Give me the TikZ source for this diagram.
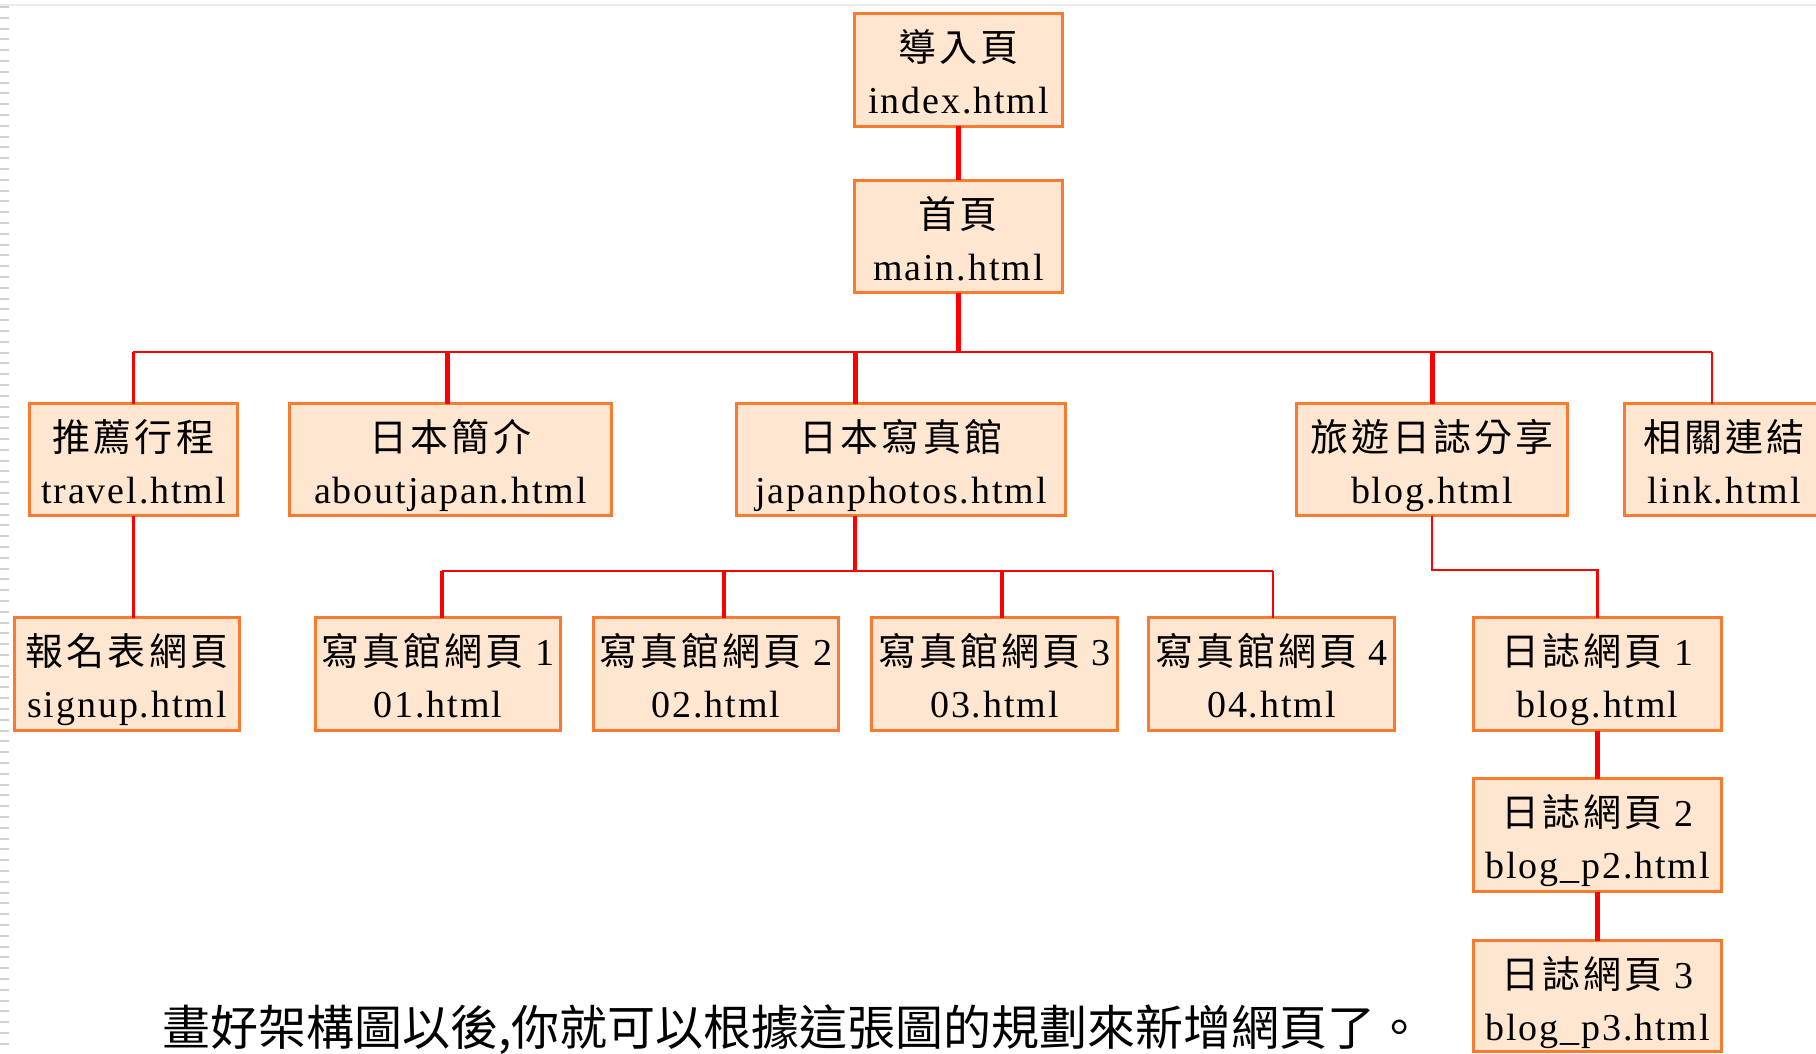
\documentclass[tikz,border=0pt]{standalone}
\usepackage{fontspec}
\setmainfont{Liberation Serif}
\newfontfamily\cjkf[LetterSpace=8]{Noto Sans CJK TC}
\newfontfamily\cjkn{Noto Sans CJK TC}
\newfontfamily\latf[LetterSpace=5]{Liberation Serif}
\definecolor{boxfill}{HTML}{FFE6D0}
\definecolor{boxline}{HTML}{FA7A30}
\definecolor{linered}{HTML}{FF0000}
\newcommand\pgbox[7]{%
  \node[box, minimum width={(#4-#2-3)*0.5pt}, minimum height={(#5-#3-3)*0.5pt}] (#1) at ({(#2+#4)/2},{(#3+#5)/2}) {};
  \node[cjkline] (#1-t) at ([yshift=-24pt]#1.north) {#6};
  \node[latline] (#1-f) at ([yshift=-50pt]#1.north) {#7};}
\begin{document}
\begin{tikzpicture}[x=0.5pt,y=-0.5pt,
  box/.style={draw=boxline, fill=boxfill, line width=1.5pt, inner sep=0pt, outer sep=0pt},
  thinl/.style={draw=linered, line width=1.25pt},
  medl/.style={draw=linered, line width=1.75pt},
  thickl/.style={draw=linered, line width=2.5pt},
  cjkline/.style={anchor=base, inner sep=0pt, font=\fontsize{19pt}{19pt}\selectfont\cjkf},
  latline/.style={anchor=base, inner sep=0pt, font=\fontsize{19pt}{19pt}\selectfont\latf},
  note/.style={anchor=base west, inner sep=0pt, font=\fontsize{24pt}{24pt}\selectfont\cjkn}]
\fill[white] (0,0) rectangle (1816,1054);
\useasboundingbox (0,0) rectangle (1816,1054);
\clip (0,0) rectangle (1816,1054);
% slide edge artefacts
\draw[black!8, line width=0.75pt] (0,5) -- (1816,5);
\foreach \k in {0,...,97} \draw[black!18, line width=1pt] (0,{7+\k*10.8}) -- (9,{7+\k*10.8});
% boxes
\pgbox{index}{853}{12}{1064}{128}{導入頁}{index.html}
\pgbox{main}{853}{179}{1064}{294}{首頁}{main.html}
\pgbox{travel}{28}{402}{239}{517}{推薦行程}{travel.html}
\pgbox{about}{288}{402}{613}{517}{日本簡介}{aboutjapan.html}
\pgbox{photos}{735}{402}{1067}{517}{日本寫真館}{japanphotos.html}
\pgbox{blog}{1295}{402}{1569}{517}{旅遊日誌分享}{blog.html}
\pgbox{link}{1623}{402}{1825}{517}{相關連結}{link.html}
\pgbox{signup}{13}{616}{241}{732}{報名表網頁}{signup.html}
\pgbox{pa}{314}{616}{562}{732}{寫真館網頁 {\latf 1}}{01.html}
\pgbox{pb}{592}{616}{840}{732}{寫真館網頁 {\latf 2}}{02.html}
\pgbox{pc}{870}{616}{1119}{732}{寫真館網頁 {\latf 3}}{03.html}
\pgbox{pd}{1147}{616}{1396}{732}{寫真館網頁 {\latf 4}}{04.html}
\pgbox{ba}{1472}{616}{1723}{732}{日誌網頁 {\latf 1}}{blog.html}
\pgbox{bb}{1472}{777}{1723}{893}{日誌網頁 {\latf 2}}{blog\_p2.html}
\pgbox{bc}{1472}{939}{1723}{1053}{日誌網頁 {\latf 3}}{blog\_p3.html}
% bus coordinates
\coordinate (busL) at (133,352);
\coordinate (busR) at (1712,352);
\coordinate (dAbout) at (447,352);
\coordinate (dPhotos) at (855,352);
\coordinate (dLink) at (1712,352);
\coordinate (jpL) at (442,571);
\coordinate (jpR) at (1273,571);
\coordinate (jpMid) at (855,571);
\coordinate (dpb) at (724,571);
\coordinate (dpc) at (1002,571);
\coordinate (blogBend) at (1500,570);
% connectors
\draw[thickl] (index) -- (main);
\draw[thickl] (main.south) -- (main.south |- busL);
\draw[thinl] (busL) -- (busR);
\draw[thinl] (travel.north) -- (travel.north |- busL);
\draw[thickl] (dAbout) -- (dAbout |- about.north);
\draw[thickl] (dPhotos) -- (dPhotos |- photos.north);
\draw[thickl] (blog.north) -- (blog.north |- busL);
\draw[thinl] (dLink) -- (dLink |- link.north);
\draw[thinl] (travel.south) -- (travel.south |- signup.north);
\draw[medl] (jpMid |- photos.south) -- (jpMid);
\draw[thinl] (jpL) -- (jpR);
\draw[medl] (jpL) -- (jpL |- pa.north);
\draw[medl] (dpb) -- (dpb |- pb.north);
\draw[medl] (dpc) -- (dpc |- pc.north);
\draw[thinl] (jpR) -- (jpR |- pd.north);
\draw[thinl] (blog.south) |- (blogBend) -| (ba.north);
\draw[thickl] (ba) -- (bb);
\draw[thickl] (bb) -- (bc);
% caption
\node[note] (caption) at (162,1045) {畫好架構圖以後,你就可以根據這張圖的規劃來新增網頁了。};
\end{tikzpicture}
\end{document}
